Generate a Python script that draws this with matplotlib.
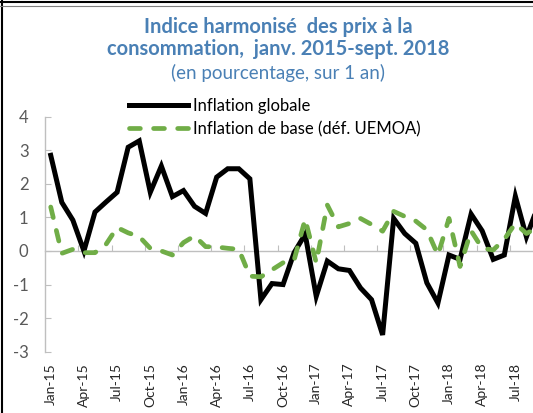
import matplotlib
matplotlib.use('Agg')
import matplotlib.pyplot as plt
from matplotlib.lines import Line2D
import numpy as np

plt.rcParams['font.family'] = ['Lato', 'DejaVu Sans']

# months Jan-15 .. Sep-18
months = ['Jan-15', 'Feb-15', 'Mar-15', 'Apr-15', 'May-15', 'Jun-15', 'Jul-15', 'Aug-15', 'Sep-15', 'Oct-15', 'Nov-15', 'Dec-15',
          'Jan-16', 'Feb-16', 'Mar-16', 'Apr-16', 'May-16', 'Jun-16', 'Jul-16', 'Aug-16', 'Sep-16', 'Oct-16', 'Nov-16', 'Dec-16',
          'Jan-17', 'Feb-17', 'Mar-17', 'Apr-17', 'May-17', 'Jun-17', 'Jul-17', 'Aug-17', 'Sep-17', 'Oct-17', 'Nov-17', 'Dec-17',
          'Jan-18', 'Feb-18', 'Mar-18', 'Apr-18', 'May-18', 'Jun-18', 'Jul-18', 'Aug-18', 'Sep-18']

globale = [2.85, 1.45, 0.92, 0.0, 1.16, 1.46, 1.75, 3.09, 3.28, 1.75, 2.53, 1.62,
           1.8, 1.33, 1.12, 2.2, 2.45, 2.45, 2.15, -1.45, -0.97, -1.0, -0.05, 0.5,
           -1.35, -0.3, -0.53, -0.58, -1.1, -1.45, -2.5, 0.97, 0.52, 0.23, -0.95, -1.55,
           -0.12, -0.25, 1.1, 0.6, -0.25, -0.12, 1.63, 0.42, 1.3]

base = [1.31, -0.07, 0.05, -0.05, -0.05, 0.2, 0.7, 0.54, 0.43, 0.08, 0.0, -0.12,
        0.25, 0.45, 0.13, 0.12, 0.08, 0.05, -0.75, -0.77, -0.56, -0.35, -0.27, 0.95,
        -0.35, 1.37, 0.72, 0.82, 0.97, 0.79, 0.59, 1.18, 1.03, 0.89, 0.63, -0.12,
        0.97, -0.46, 0.6, 0.08, 0.03, 0.35, 0.82, 0.52, 0.7]

label_every = 3
yticks = [-3, -2, -1, 0, 1, 2, 3, 4]

title_col = '#4a80b5'
axis_col = '#bfbfbf'
green = '#70ad47'

x = np.arange(len(months))

fig = plt.figure(figsize=(5.33, 4.13), dpi=100)
ax = fig.add_axes([0.0848, 0.1484, 0.934, 0.569])

ax.plot(x, globale, color='black', lw=3.6, label='Inflation globale', solid_joinstyle='miter')
ax.plot(x, base, color=green, lw=3.4, dashes=(2.3, 2.8), dash_capstyle='round',
        label='Inflation de base (déf. UEMOA)')

ax.set_xlim(-0.5, len(months) - 0.5)
ax.set_ylim(-3, 4)

for s in ['top', 'right', 'bottom']:
    ax.spines[s].set_visible(False)
ax.spines['left'].set_color(axis_col)
ax.spines['left'].set_linewidth(1.0)

ax.set_yticks(yticks)
ax.set_yticklabels([str(v) for v in yticks])
ax.tick_params(axis='y', direction='in', length=4, color=axis_col, labelsize=12,
               labelcolor='#595959', pad=12)

ax.set_xticks(x[::label_every])
ax.set_xticklabels(months[::label_every], rotation=90)
ax.tick_params(axis='x', length=0, labelsize=10, labelcolor='#262626', pad=8)

# axis line at zero with tick marks between categories
sec = ax.secondary_xaxis(3 / 7)
sec.set_xticks(x[label_every - 1::label_every] + 0.5)
sec.set_xticklabels([])
sec.tick_params(direction='in', length=4, color=axis_col)
sec.spines['bottom'].set_color(axis_col)
sec.spines['bottom'].set_linewidth(1.0)

ax.legend(loc='upper left', bbox_to_anchor=(0.242, 0.762), bbox_transform=fig.transFigure,
          frameon=False, fontsize=12, handlelength=3.55, handletextpad=0.28,
          labelspacing=0.4, borderpad=0, borderaxespad=0)

fig.text(0.522, 0.934, 'Indice harmonisé  des prix à la', ha='center', va='center',
         fontsize=14.5, fontweight='bold', color=title_col)
fig.text(0.522, 0.881, 'consommation,  janv. 2015-sept. 2018', ha='center', va='center',
         fontsize=14.5, fontweight='bold', color=title_col)
fig.text(0.522, 0.823, '(en pourcentage, sur 1 an)', ha='center', va='center',
         fontsize=13.5, color=title_col)

# frame of the original panel
fig.add_artist(Line2D([0.004, 0.004], [0, 1], color='black', lw=1.5))
fig.add_artist(Line2D([0, 1], [0.996, 0.996], color='black', lw=1.5))
fig.add_artist(Line2D([0, 1], [0.985, 0.985], color='#7f7f7f', lw=0.8))

fig.savefig('out.png', dpi=100)
